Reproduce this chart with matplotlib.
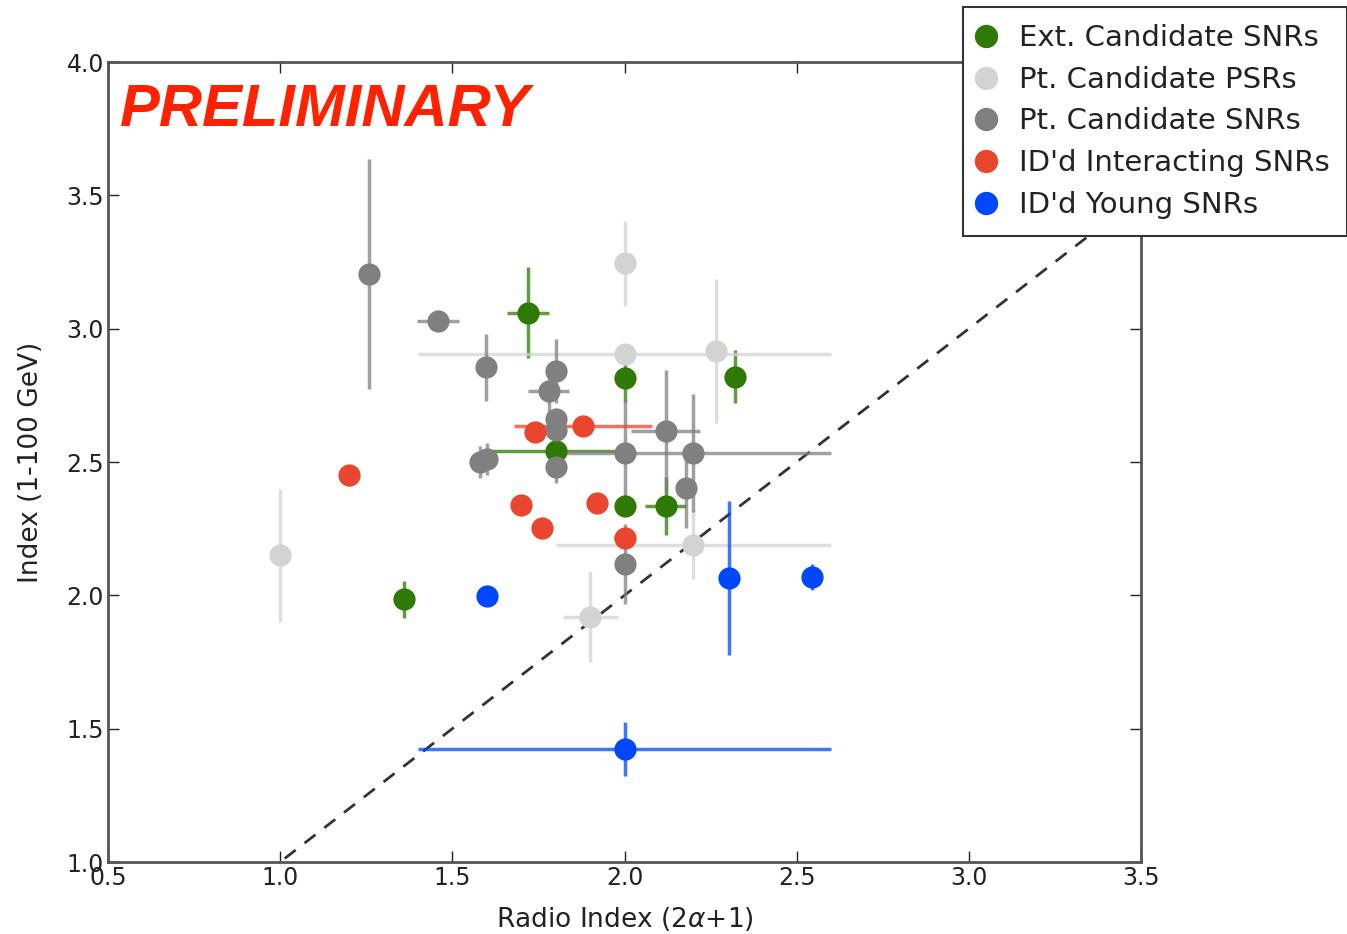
import matplotlib
matplotlib.use("Agg")
import matplotlib.pyplot as plt
import numpy as np

# Extended candidate SNRs
ext_x = [1.72, 2.00, 2.32, 1.80, 2.00, 2.12, 1.36]
ext_y = [3.06, 2.815, 2.82, 2.54, 2.335, 2.335, 1.985]
ext_xerr = [0.06, 0.0, 0.02, 0.20, 0.0, 0.06, 0.0]
ext_yerr = [0.17, 0.09, 0.10, 0.0, 0.0, 0.11, 0.07]

# Point-like candidate PSRs
psr_x = [1.00, 2.00, 2.00, 2.265, 2.20, 1.90]
psr_y = [2.15, 3.245, 2.905, 2.915, 2.19, 1.92]
psr_xerr = [0.0, 0.0, 0.60, 0.0, 0.40, 0.08]
psr_yerr = [0.25, 0.16, 0.0, 0.27, 0.13, 0.17]

# Point-like candidate SNRs
pts_x = [1.257, 1.458, 1.598, 1.78, 1.80, 1.80, 1.80, 1.80, 1.58, 1.60, 2.00, 2.12, 2.20, 2.18, 2.00]
pts_y = [3.205, 3.03, 2.855, 2.765, 2.84, 2.66, 2.62, 2.48, 2.50, 2.51, 2.534, 2.616, 2.534, 2.403, 2.118]
pts_xerr = [0.0, 0.06, 0.0, 0.06, 0.0, 0.0, 0.0, 0.0, 0.0, 0.0, 0.0, 0.10, 0.40, 0.0, 0.0]
pts_yerr = [0.43, 0.0, 0.125, 0.10, 0.12, 0.0, 0.0, 0.06, 0.06, 0.06, 0.20, 0.23, 0.22, 0.15, 0.15]

# Identified interacting SNRs
int_x = [1.20, 1.74, 1.88, 1.70, 1.76, 1.92, 2.00]
int_y = [2.45, 2.613, 2.635, 2.34, 2.253, 2.346, 2.215]
int_xerr = [0.0, 0.03, 0.20, 0.0, 0.0, 0.0, 0.03]
int_yerr = [0.04, 0.0, 0.0, 0.0, 0.0, 0.0, 0.0]

# Identified young SNRs
yng_x = [1.60, 2.303, 2.545, 2.00]
yng_y = [1.998, 2.065, 2.069, 1.424]
yng_xerr = [0.0, 0.0, 0.0, 0.60]
yng_yerr = [0.0, 0.29, 0.05, 0.10]

series = [
    ("Ext. Candidate SNRs", "#2f7a07", ext_x, ext_y, ext_xerr, ext_yerr),
    ("Pt. Candidate PSRs", "#d3d3d3", psr_x, psr_y, psr_xerr, psr_yerr),
    ("Pt. Candidate SNRs", "#808080", pts_x, pts_y, pts_xerr, pts_yerr),
    ("ID'd Interacting SNRs", "#e8462f", int_x, int_y, int_xerr, int_yerr),
    ("ID'd Young SNRs", "#0047ff", yng_x, yng_y, yng_xerr, yng_yerr),
]

plt.rcParams['font.family'] = 'DejaVu Sans'
fig = plt.figure(figsize=(13.47, 9.34), dpi=100)
ax = fig.add_axes([108 / 1347, 72 / 934, 1033 / 1347, 800 / 934])

# y = x reference line
diag = np.array([0.5, 3.5])
ax.plot(diag, diag, linestyle=(0, (5, 4)), color='#333333', linewidth=2, zorder=1)

handles = []
for z, (label, color, x, y, xerr, yerr) in enumerate(series):
    ax.errorbar(x, y, xerr=xerr, yerr=yerr, fmt='none', ecolor=color,
                elinewidth=2.5, alpha=0.75, capsize=0, zorder=2 + z)
    h, = ax.plot(x, y, 'o', color=color, markersize=16, markeredgewidth=0,
                 label=label, zorder=10 + z)
    handles.append(h)

ax.set_xlim(0.5, 3.5)
ax.set_ylim(1.0, 4.0)
ax.set_xticks(np.arange(0.5, 3.51, 0.5))
ax.set_yticks(np.arange(1.0, 4.01, 0.5))
ax.tick_params(direction='in', length=8, width=1, top=True, right=True,
               labelsize=17, colors='#222222', pad=3)
for s in ax.spines.values():
    s.set_color('#555555')
    s.set_linewidth(2)

ax.set_xlabel(r"Radio Index (2$\alpha$+1)", fontsize=19, color='#222222', labelpad=11)
ax.set_ylabel("Index (1-100 GeV)", fontsize=19, color='#222222', labelpad=16)

ax.text(0.012, 0.94, "PRELIMINARY", transform=ax.transAxes, color='#ff2200',
        fontsize=43, fontweight='bold', fontstyle='italic',
        family='Liberation Sans', va='center', ha='left')

leg = fig.legend(handles=handles, loc='upper right', bbox_to_anchor=(1.0, 0.993),
                 numpoints=1, fontsize=21, frameon=True, fancybox=False,
                 framealpha=1, borderaxespad=0, handletextpad=0.94,
                 handlelength=0.38, labelspacing=0.47, borderpad=0.6,
                 markerscale=1.05)
leg.get_frame().set_edgecolor('#333333')
leg.get_frame().set_linewidth(1.5)
for t in leg.get_texts():
    t.set_color('#222222')

fig.savefig("out.png", dpi=100)
